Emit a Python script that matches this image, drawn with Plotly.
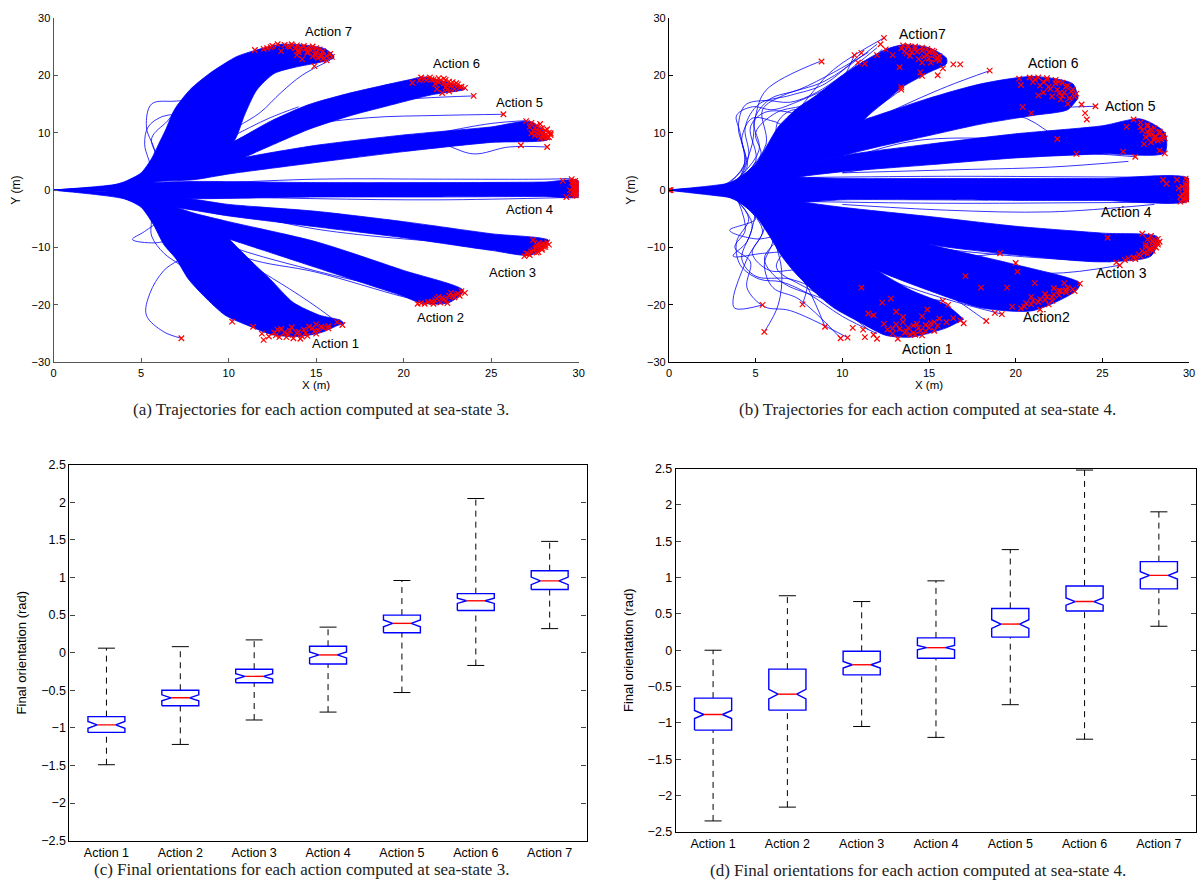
import plotly.graph_objects as go

# ---------------- DATA ----------------
actions = ["Action 1", "Action 2", "Action 3", "Action 4", "Action 5", "Action 6", "Action 7"]

# Box statistics, sea-state 3
ss3_hi = [0.06, 0.08, 0.17, 0.34, 0.96, 2.05, 1.48]
ss3_q3 = [-0.85, -0.50, -0.22, 0.085, 0.50, 0.785, 1.09]
ss3_med = [-0.96, -0.60, -0.315, -0.03, 0.39, 0.69, 0.955]
ss3_q1 = [-1.06, -0.705, -0.40, -0.15, 0.265, 0.56, 0.84]
ss3_lo = [-1.49, -1.22, -0.895, -0.79, -0.53, -0.17, 0.32]
ss3_notch = [0.045, 0.04, 0.035, 0.04, 0.045, 0.035, 0.05]

# Box statistics, sea-state 4
ss4_hi = [0.0, 0.75, 0.67, 0.955, 1.385, 2.48, 1.905]
ss4_q3 = [-0.66, -0.26, -0.015, 0.17, 0.575, 0.885, 1.22]
ss4_med = [-0.885, -0.605, -0.20, 0.035, 0.36, 0.67, 1.03]
ss4_q1 = [-1.10, -0.825, -0.34, -0.11, 0.18, 0.54, 0.845]
ss4_lo = [-2.35, -2.16, -1.05, -1.20, -0.75, -1.225, 0.33]
ss4_notch = [0.055, 0.065, 0.045, 0.03, 0.06, 0.05, 0.05]

# Trajectory bands (upper / lower edges), sea-state 3, per action 1..7
ss3_band_top = [
    [(0, 0), (4, -0.8), (6, -2.5), (8, -4.5), (9.5, -7), (10.5, -10), (11.5, -13), (12.4, -15.6), (13.7, -19.6), (15.2, -21.8), (16.4, -22.7), (16.6, -23.3)],
    [(0, 0), (4, -0.8), (6, -2), (8, -4), (10, -5.5), (15, -9), (20, -14), (23.4, -17.5)],
    [(0, 0), (4, -0.5), (6, -1), (8, -1.6), (10, -2.5), (15, -3.7), (20, -5.5), (25, -7.6), (28.3, -8.8)],
    [(0, 0.02), (2, 0.15), (3, 0.3), (5, 1.2), (8, 1.5), (15, 1.3), (22, 1.3), (28, 1.4), (30, 1.6)],
    [(0, 0), (4, 1), (6, 3), (8, 4.5), (9.3, 4.8), (12, 6.3), (15, 7.8), (20, 9.6), (25, 11), (27.3, 11.9)],
    [(0, 0), (4, 1.2), (6, 3.5), (8, 6), (10, 8), (12.4, 12), (14.5, 14.8), (16.8, 16.8), (20.3, 19.2), (21.2, 19.7)],
    [(0, 0), (2, 0.25), (3, 0.6), (4, 1.4), (5, 3), (5.6, 5.5), (6.0, 8), (6.4, 10.5), (6.9, 14), (7.8, 17.5), (9, 20.5), (10.5, 23.3), (12.2, 24.9), (13, 25.4), (14.5, 25.2), (15.5, 24.6), (16, 23.4)],
]
ss3_band_bot = [
    [(0, 0), (2, -0.25), (3, -0.6), (4, -1.4), (5, -3), (5.7, -6), (6.3, -9.5), (7.0, -12), (7.7, -15.5), (8.6, -18.5), (9.8, -21.8), (11.2, -23.7), (12.5, -25.2), (14, -25.5), (15.3, -24.8), (16.3, -23.5)],
    [(0, 0), (4, -1.5), (6, -4), (8, -6.5), (10, -8.5), (12, -10.5), (15, -13.5), (18, -16.5), (20, -18.5), (21, -19.7), (22.6, -19.6)],
    [(0, 0), (4, -1), (6, -2.5), (8, -3.5), (10, -4.5), (15, -6.4), (20, -8.3), (25, -10.5), (27.3, -11.3)],
    [(0, -0.02), (2, -0.15), (3, -0.3), (5, -1.2), (8, -1.5), (15, -1.2), (22, -1.2), (28, -1.1), (30, -1.1)],
    [(0, 0), (4, 0.5), (6, 1.5), (8, 1.8), (10, 2.8), (15, 4.8), (20, 6.7), (25, 8.3), (28.3, 8.9)],
    [(0, 0), (4, 0.8), (6, 2.5), (8, 4), (10.2, 4.9), (12, 7.2), (14.6, 10.6), (17, 13), (19, 14.6), (21.6, 16.6), (23.5, 17.6)],
    [(0, 0), (4, 0.8), (6, 2), (8, 3.8), (9.5, 5.5), (10.4, 9), (10.9, 13), (11.6, 17.4), (12.6, 20.3), (13.8, 21.4), (15.3, 22.3), (16, 23)],
]

# Individual stray trajectories, sea-state 3
ss3_strays = [
    [(4, 1), (5.5, 3), (5.2, 8), (5.4, 11), (6.2, 12.8), (7.8, 13.6), (9, 16), (11, 21), (12.5, 24.8)],
    [(4, 1), (6, 4), (5.6, 9), (6.5, 12), (7.2, 14.4), (8.6, 15.3), (10, 18), (12.4, 24.2)],
    [(5, 2), (5.8, 6), (5.3, 11), (5.6, 15), (7, 15.5), (8.5, 16), (10, 19), (13, 24.5)],
    [(5, 2), (7, 6), (8.5, 9), (9.4, 12), (10, 15), (12, 20), (14.5, 22.3)],
    [(6, 3), (9, 8), (10.5, 11), (11.8, 13.5), (13, 17), (14.2, 20), (15.8, 22.6)],
    [(7, 4), (10, 9), (12.3, 12.5), (14, 14.5)],
    [(6, 3), (10, 8), (13, 12.5), (17, 15), (21, 16), (24, 16.4)],
    [(7, 4), (10, 7), (14, 11), (18, 12.6), (22, 13), (25.7, 13.2)],
    [(8, 3), (12, 5.5), (18, 8), (22, 8.1), (24, 6.3), (26, 7.5), (28.2, 7.5)],
    [(8, 2.5), (15, 6.3), (22, 10), (25, 11.6), (27, 12.1)],
    [(8, 1), (15, 1.9), (22, 1.9), (28, 1.9), (29.5, 2)],
    [(8, -1), (15, -1.5), (22, -1.7), (29.3, -1.3)],
    [(8, -3), (12, -5), (15, -6.8), (20, -8.5), (25, -9.3), (27.4, -8.7)],
    [(6, -4), (10, -9.7), (14, -13.3), (18, -16.2), (22, -18)],
    [(8, -7), (11, -11.8), (15, -14.3), (20, -18.6), (22, -19.9)],
    [(5, -2), (6, -5), (5.2, -7.2), (4.5, -8.6), (5.8, -9.2), (7.5, -8.3), (7.8, -10.5), (6.3, -14), (5.5, -18), (5.3, -21.8), (6.3, -24.7), (7.3, -25.8)],
    [(4, -1), (5.5, -4), (5.6, -8), (6.3, -11), (7.2, -13), (8.5, -16.5), (10.5, -21), (12, -23.5)],
    [(6, -3), (7.5, -7), (9, -10.5), (8.7, -13), (9.5, -16), (11, -20), (13.5, -23.5)],
    [(5, -2), (6.8, -6), (8.3, -9.5), (11, -12.8), (13, -16.3), (15, -20.3), (16.2, -23)],
    [(6, -3), (8, -8), (9.6, -12), (10.2, -22.9)],
]

# End points (red crosses), sea-state 3
ss3_end_x = [10.2, 11.4, 11.9, 12.3, 12.0, 12.7, 12.8, 13.2, 13.4, 13.7, 14.0, 14.3, 14.5, 14.8, 15.1, 15.4, 15.7, 16.2, 16.5, 13.0, 14.1, 14.6, 15.0, 13.6, 7.3, 12.6,
             13.5, 13.9, 14.4, 14.9, 15.3, 15.0, 13.3, 14.2, 15.7, 12.9,
             23.3, 23.5, 23.0, 22.6, 22.2, 21.8, 21.4, 21.0, 20.8, 22.4, 22.9, 21.7, 23.2, 22.7, 21.9, 22.5,
             22.8, 22.3, 21.6, 22.1, 23.1, 22.0, 21.2,
             27.4, 27.7, 28.0, 28.3, 28.1, 27.9, 27.6, 27.2, 26.9, 27.5, 27.8, 27.3, 28.2, 27.6, 27.0, 27.9,
             27.9, 28.1, 27.4, 27.7, 27.1, 28.0, 27.6,
             29.6, 29.8, 29.9, 30.0, 29.7, 29.9, 30.0, 29.8, 29.6, 29.9, 29.3, 29.7, 29.5, 29.9, 29.8, 29.1, 30.0,
             29.7, 29.8, 29.9, 30.0, 29.7, 29.6, 29.8,
             27.0, 27.3, 27.6, 27.9, 28.1, 28.3, 28.4, 28.2, 27.8, 27.5, 27.9, 27.3, 28.0, 27.6, 27.2, 26.7, 28.2, 25.7, 27.8, 28.3, 27.4,
             27.8, 28.2, 28.4, 27.7, 28.0, 27.5, 28.1,
             20.5, 21.0, 21.5, 22.0, 22.4, 22.8, 23.1, 23.3, 23.5, 22.6, 22.2, 21.8, 22.5, 21.3, 22.0, 22.9, 20.9, 21.7, 23.0, 22.4, 24.0, 22.3, 21.9,
             21.2, 21.6, 22.1, 22.6, 22.9, 22.3, 22.7, 23.2, 21.9, 22.5,
             11.5, 12.0, 12.5, 12.8, 13.2, 13.5, 13.8, 14.1, 14.4, 14.7, 15.0, 15.3, 15.6, 15.9, 15.6, 14.9, 14.2, 13.9, 14.5, 15.1, 13.0, 12.2, 14.8, 15.2, 13.6, 14.0, 15.4,
             12.4, 13.4, 13.9, 14.3, 14.6, 15.0, 15.4, 15.8, 14.0, 14.5, 15.0, 15.3, 14.8]
ss3_end_y = [-22.9, -23.8, -25.0, -25.5, -26.1, -25.3, -24.3, -24.8, -25.2, -25.8, -24.7, -24.3, -25.4, -24.0, -24.4, -24.0, -23.7, -23.0, -23.5, -24.2, -25.9, -23.8, -23.4, -23.9, -25.8, -24.8,
             -24.5, -24.9, -24.9, -24.6, -23.8, -25.0, -25.6, -25.5, -24.1, -25.6,
             -17.6, -17.9, -18.2, -18.4, -18.8, -19.2, -19.5, -19.7, -19.8, -19.3, -18.7, -19.8, -18.4, -17.9, -18.9, -19.7,
             -18.5, -19.0, -19.4, -19.6, -18.0, -18.6, -19.8,
             -8.7, -9.2, -9.3, -9.5, -9.9, -10.4, -10.9, -11.3, -11.5, -10.2, -9.8, -10.7, -9.1, -9.5, -11.0, -10.1,
             -9.5, -9.6, -10.5, -10.8, -11.1, -9.9, -10.0,
             1.9, 1.6, 1.2, 0.8, 0.5, 0.2, -0.2, -0.5, -0.8, -1.0, -1.2, 1.0, 0.0, -0.6, 0.6, 1.6, 1.4,
             1.5, -0.9, 0.9, 0.1, -0.2, 1.3, 0.3,
             12.0, 11.7, 11.2, 10.8, 10.4, 10.0, 9.6, 9.2, 9.0, 9.5, 10.0, 9.9, 9.4, 10.5, 11.0, 7.8, 7.5, 13.2, 11.5, 9.2, 10.3,
             10.2, 10.6, 9.9, 9.7, 9.1, 10.8, 9.7,
             18.7, 19.6, 19.6, 19.5, 19.2, 18.8, 18.4, 18.0, 17.8, 17.2, 16.9, 18.5, 18.3, 19.2, 18.9, 17.6, 19.1, 19.2, 18.6, 17.9, 16.4, 19.4, 17.6,
             19.4, 19.3, 19.1, 18.9, 18.3, 18.6, 18.1, 17.9, 18.9, 17.5,
             24.4, 24.6, 25.1, 25.4, 25.3, 24.9, 24.7, 24.8, 24.6, 24.3, 24.0, 23.6, 23.3, 23.2, 22.6, 21.6, 22.8, 23.5, 23.9, 23.0, 24.2, 24.7, 25.0, 24.5, 25.4, 24.0, 22.8,
             24.9, 25.1, 25.2, 25.1, 24.8, 24.7, 24.2, 23.7, 24.4, 24.1, 23.6, 23.3, 23.3]

# Trajectory bands, sea-state 4
ss4_band_top = [
    [(0, 0), (4, -1), (6, -3), (8, -6), (10, -10), (12, -14), (14, -17.5), (16, -20), (17, -22.5)],
    [(0, 0), (4, -1), (6, -2), (8, -4), (10, -5.8), (15, -9.5), (20, -13), (23.7, -16.2)],
    [(0, 0), (4, -0.5), (6, -1.2), (8, -2.2), (10, -3), (15, -4.6), (20, -6.3), (25, -7.5), (28.2, -8.2)],
    [(0, 0.02), (2, 0.2), (3, 0.5), (5, 1.6), (7, 2.2), (10, 2), (15, 2), (20, 2), (25, 2), (30, 2)],
    [(0, 0), (4, 1), (6, 3), (8, 4.5), (10, 6), (15, 8), (20, 9.8), (25, 11.2), (27.2, 12.4), (28.6, 10)],
    [(0, 0), (4, 1.5), (6, 4.5), (8, 8.5), (10, 11), (12, 13), (15, 16), (18, 18.5), (21, 19.8), (23.3, 18.5), (23.6, 16)],
    [(0, 0), (2, 0.3), (3, 0.8), (4, 2), (5, 4.5), (5.7, 8), (6.3, 11), (7.3, 14), (8.5, 16.5), (9.8, 19.5), (11, 22), (12.5, 24.5), (13.5, 25.3), (15, 24.8), (16, 23)],
]
ss4_band_bot = [
    [(0, 0), (2, -0.3), (3, -0.8), (4, -2), (5, -4.5), (5.8, -8), (6.5, -11.5), (7.3, -14.5), (8.3, -17.5), (9.5, -20.5), (11, -23), (12.5, -25.3), (14, -25.6), (16, -24), (17, -22.5)],
    [(0, 0), (4, -1.5), (6, -5), (8, -8), (10, -11), (12, -14), (15, -17.5), (18, -20.5), (21, -21), (23.5, -17.5)],
    [(0, 0), (4, -1.5), (6, -3), (8, -4.5), (10, -6.5), (15, -9.5), (20, -11.3), (25, -12.5), (27.8, -11.5)],
    [(0, -0.02), (2, -0.2), (3, -0.5), (5, -1.6), (7, -2.2), (10, -1.7), (15, -1.7), (20, -1.8), (25, -1.8), (30, -1.8)],
    [(0, 0), (4, 0.5), (6, 1.5), (8, 2.5), (10, 3.2), (15, 4.4), (20, 5.6), (25, 6.3), (28.6, 6.5)],
    [(0, 0), (4, 1), (6, 2.5), (8, 4.5), (10, 6), (12, 7.5), (15, 9.5), (18, 11.5), (21, 13), (23, 14), (23.6, 16)],
    [(0, 0), (4, 1), (6, 2.5), (8, 4), (9.5, 7), (10.5, 10), (11.5, 13), (12.5, 15.5), (13.5, 18), (15, 20.5), (16, 22)],
]

ss4_strays = [
    [(3, 0.5), (4.3, 4), (4.1, 10), (3.9, 13), (4.8, 14.5), (6, 14), (7.5, 15.5), (9, 17.5), (10.6, 20), (12.3, 24.5)],
    [(3.5, 1), (5, 5), (4.7, 11), (5.5, 13.5), (7, 13.5), (8, 12), (9, 14), (10.7, 23.5)],
    [(3.5, 1), (4.5, 4), (4.2, 9), (4.8, 12.5), (6, 12), (7, 11), (8, 13), (9, 15.5), (11, 21), (13, 24.5)],
    [(4, 2), (5.3, 6), (5, 10), (6.2, 13.5), (8, 15), (10, 19), (12.3, 23.5)],
    [(4, 1.5), (4.6, 6), (4.4, 11), (5.2, 15), (7, 16.5), (9, 18.5), (11.1, 23.9)],
    [(3.5, 1.2), (4.4, 5), (4.0, 11), (4.4, 14.8), (5.5, 15.6), (7, 15.3), (8.5, 17), (10, 20), (12, 24.8)],
    [(4, 2), (5.2, 7), (4.9, 12), (5.8, 15.8), (7.5, 17.5), (9.5, 20.5), (11.5, 24)],
    [(4.5, 2.5), (6, 7), (6.3, 12), (7.2, 14), (8.6, 13), (9.6, 15), (11, 19), (13, 23)],
    [(4.2, 2), (5.6, 8), (5.4, 14), (6.6, 16.5), (9, 19), (12, 25.4)],
    [(5, 3), (6.5, 9), (7.8, 12), (10, 13.5), (12, 16), (14, 21.5)],
    [(5, 3), (7, 8), (8.5, 12), (9.5, 16), (11, 19), (13.5, 23)],
    [(4, 1.5), (4.8, 8), (5, 13), (5.6, 17.4), (8.7, 22.4)],
    [(6, 8), (8, 16), (9.5, 21), (12.4, 26.5)],
    [(9, 10), (11, 13), (12.5, 15.5), (13.4, 17.5)],
    [(8, 5), (10, 7.5), (12.5, 12), (14.5, 13.4)],
    [(9, 8), (13, 14), (16, 18), (18.5, 20.8)],
    [(14, 9.5), (17.5, 12), (20.2, 12.9), (22.4, 8.9)],
    [(15, 13), (19, 14.5), (22, 14.4), (24.6, 14.6)],
    [(9, 4), (14, 8.5), (20, 9), (24, 9), (26.5, 10.5)],
    [(10, 4), (15, 5.3), (20, 5.8), (23.5, 6.3)],
    [(10, 3), (16, 5.5), (22, 6.6), (26.9, 5.8)],
    [(10, 3), (16, 3.5), (22, 4), (26.5, 5)],
    [(8, 2.2), (16, 2.4), (24, 2.3), (29.5, 2.2)],
    [(8, -2), (16, -2.3), (24, -2.2), (29.5, -2.1)],
    [(10, -2.5), (16, -3.5), (22, -3.8), (28, -2.5)],
    [(8, -4), (12, -8), (16, -11.5), (19.1, -11)],
    [(9, -6), (14, -9.5), (20, -11.5), (25.5, -12.5)],
    [(8, -5), (13, -11), (17.1, -15)],
    [(8, -6), (12, -9), (16, -12), (20, -14), (23.7, -16.3)],
    [(10, -10), (14, -14.5), (16.5, -19), (18.3, -22.8)],
    [(10, -12), (13, -16), (16, -19), (19.2, -21.6)],
    [(12, -10), (18, -13), (22, -14.5), (26, -13.1)],
    [(4, -1.5), (5.5, -6), (4.5, -12), (3.7, -19), (3.8, -20.6), (5.4, -20)],
    [(4, -2), (5, -5), (3.5, -7), (5, -8.5), (7, -8), (8, -12), (9, -16), (10, -20), (12, -24)],
    [(5, -4), (4.5, -9), (3.7, -11.5), (5.5, -11), (7, -11), (8.5, -14), (9.5, -19), (11.5, -24.3)],
    [(4, -2), (4.8, -6), (4.2, -12), (5, -15), (7, -15.5), (9, -18), (11, -22), (13, -25)],
    [(3.8, -1.5), (4.6, -5), (3.9, -9), (4.1, -13), (5.2, -15.5), (6.5, -16), (8, -18), (10, -22), (12, -25)],
    [(4.2, -2), (5.4, -7), (4.8, -11), (5.8, -14), (7.5, -14), (9, -16), (11, -20), (13.5, -24)],
    [(4.5, -2.5), (6, -8), (5.5, -13), (6, -17), (7.5, -19), (9.9, -25.8)],
    [(5, -3), (6.8, -9), (6.2, -13.5), (7.6, -16.5), (9.6, -19), (12.3, -19.6)],
    [(4, -2), (4.4, -7), (3.8, -10), (4.7, -12.5), (4.5, -17), (5.5, -20.3), (7, -21), (10.3, -25.7)],
    [(5, -3), (6.5, -7), (5.5, -12), (6.5, -16), (8.5, -18.5), (11.5, -21.5)],
    [(6, -5), (8, -10), (10, -15), (12, -19), (14, -22.5)],
    [(6, -8), (6.5, -14), (6.3, -20), (5.5, -24.7)],
    [(7, -10), (8, -15), (7.7, -19.9)],
    [(5, -3), (6.5, -10), (8, -17), (9, -23.8)],
    [(9, -12), (12, -17), (15.8, -19.3)],
]

ss4_end_x = [0.0, 0.05, 0.1,
             5.5, 5.4, 7.7, 9.0, 9.9, 10.3, 10.6, 11.2, 11.5, 11.8, 11.8, 11.1, 12.3, 12.8, 12.4, 12.9, 13.2, 13.1, 13.5, 13.8, 14.2, 14.5, 14.8, 15.0, 15.3, 15.6, 16.0, 16.4, 16.8, 14.9, 15.8, 16.1, 17.0, 13.6, 14.1, 15.3, 14.6, 13.1, 12.6, 11.3, 12.0,
             13.3, 13.7, 14.1, 14.4, 14.8, 13.9, 14.3, 13.5, 15.1, 15.5, 12.9, 14.6,
             23.7, 23.3, 22.9, 22.5, 22.1, 21.7, 21.3, 20.9, 20.5, 21.4, 19.8, 19.2, 18.8, 18.3, 19.1, 20.0, 20.1, 21.1, 22.8, 22.2, 20.9, 21.7, 22.5, 17.1, 18.0, 19.5, 23.4, 22.1,
             23.0, 22.6, 22.2, 21.8, 21.4, 21.0, 20.6, 22.9, 21.9, 20.3,
             27.3, 27.8, 28.2, 28.3, 28.2, 28.1, 27.9, 27.6, 27.2, 26.8, 26.3, 25.8, 26.0, 25.3, 27.5, 27.8, 27.3, 27.9, 26.9, 26.5,
             27.9, 28.2, 28.0, 27.7, 27.4, 27.9, 27.5, 27.1, 27.6, 28.1,
             29.8, 30.0, 29.9, 30.0, 29.9, 30.0, 29.8, 29.7, 29.5, 28.5, 28.7, 29.3, 29.5, 29.6, 29.8, 29.4, 29.9,
             29.9, 30.0, 29.9, 30.0, 29.9, 30.0, 29.9, 29.7, 29.8, 29.6,
             26.8, 27.2, 27.6, 28.0, 28.3, 28.5, 28.6, 28.2, 27.8, 27.5, 27.9, 27.3, 26.4, 26.2, 26.9, 23.5, 28.3, 28.6, 27.4, 28.0, 27.6,
             27.8, 28.3, 28.1, 27.6, 27.2, 28.4, 27.7, 28.0,
             20.2, 20.8, 21.3, 21.8, 22.3, 22.7, 23.0, 23.3, 23.5, 23.1, 22.6, 22.1, 21.6, 21.9, 22.4, 22.8, 20.3, 20.4, 20.9, 22.4, 21.3, 23.0, 23.8, 24.0, 24.1, 24.6, 22.3, 21.6,
             21.1, 21.8, 22.5, 22.9, 23.2, 22.7, 22.0, 23.4, 21.4, 22.5, 21.0,
             8.8, 10.7, 11.1, 10.9, 11.3, 12.2, 12.4, 12.5, 12.0, 12.9, 13.3, 13.4, 13.4, 14.5, 14.6, 15.5, 16.4, 16.8, 15.8, 18.5, 13.5, 13.8, 14.2, 14.6, 15.0, 15.3, 15.5, 15.6, 15.1, 14.4, 13.9, 14.0, 14.7, 13.6, 15.2,
             13.8, 14.2, 14.6, 14.9, 15.3, 15.6, 15.4, 14.9, 14.3, 13.7, 15.0, 14.6, 13.4]
ss4_end_y = [0.0, 0.0, 0.0,
             -24.7, -20.0, -19.9, -23.8, -25.8, -25.7, -24.0, -24.3, -21.5, -21.8, -25.2, -17.0, -19.6, -18.9, -23.3, -25.0, -25.9, -21.2, -22.1, -24.0, -25.2, -24.5, -23.5, -24.0, -23.0, -22.4, -23.0, -22.3, -22.7, -20.8, -19.3, -20.0, -23.2, -24.8, -23.6, -24.5, -22.0, -23.4, -24.3, -25.6, -25.9,
             -24.2, -24.6, -24.9, -24.0, -24.6, -25.2, -23.3, -23.0, -23.2, -23.6, -24.1, -25.3,
             -16.3, -17.3, -17.8, -18.3, -18.7, -19.1, -19.5, -19.9, -20.3, -20.8, -20.3, -21.6, -21.4, -22.8, -11.0, -12.7, -14.2, -16.2, -16.2, -17.1, -18.6, -18.1, -17.5, -15.0, -17.0, -17.0, -17.6, -19.3,
             -17.0, -17.6, -18.2, -18.6, -19.0, -19.3, -19.7, -17.4, -19.9, -20.6,
             -7.6, -8.0, -8.5, -9.0, -9.5, -10.0, -10.6, -11.1, -11.5, -11.7, -12.2, -12.6, -13.1, -8.3, -9.5, -10.2, -10.6, -9.0, -12.0, -11.9,
             -8.8, -9.2, -9.8, -10.3, -10.9, -10.0, -9.9, -11.2, -8.6, -8.9,
             2.0, 1.5, 1.0, 0.5, 0.0, -0.5, -1.0, -1.5, -2.0, 1.8, 1.1, 1.8, -1.2, 0.6, -0.3, 0.3, -1.8,
             1.7, 1.2, 0.7, 0.2, -0.2, -0.8, -1.3, -1.8, 0.9, -0.7,
             12.3, 11.8, 11.4, 10.8, 10.2, 9.6, 9.0, 8.6, 8.3, 9.2, 9.8, 10.4, 11.0, 6.7, 5.8, 6.3, 6.9, 6.4, 8.0, 9.2, 10.2,
             10.6, 9.9, 9.3, 11.1, 11.0, 8.8, 9.6, 8.7,
             19.4, 19.6, 19.6, 19.5, 19.2, 18.7, 18.2, 17.5, 16.8, 16.0, 15.8, 16.3, 17.0, 18.0, 17.5, 17.0, 18.3, 14.5, 13.4, 8.9, 16.5, 15.0, 14.9, 13.4, 12.3, 14.6, 18.6, 18.8,
             19.3, 19.2, 18.8, 18.0, 17.2, 16.4, 17.6, 16.3, 18.2, 16.8, 18.8,
             22.4, 23.5, 23.9, 22.2, 22.0, 25.4, 26.5, 24.5, 23.5, 23.5, 21.4, 17.5, 17.9, 20.5, 19.9, 20.0, 21.9, 21.9, 21.2, 20.8, 25.2, 24.9, 24.6, 24.3, 24.0, 23.5, 23.0, 22.5, 22.2, 22.8, 23.4, 24.0, 23.2, 24.2, 24.3,
             25.1, 25.0, 24.8, 24.6, 24.1, 23.3, 22.7, 23.6, 24.1, 23.8, 22.9, 22.2, 24.7]

# Action label positions (data coords)
ss3_label_x = [16.1, 22.1, 26.2, 27.2, 26.6, 23.0, 15.7]
ss3_label_y = [-26.7, -22.2, -14.4, -3.3, 15.3, 22.0, 27.6]
ss4_labels = ["Action 1", "Action2", "Action 3", "Action 4", "Action 5", "Action 6", "Action7"]
ss4_label_x = [14.9, 21.8, 26.1, 26.4, 26.6, 22.2, 14.6]
ss4_label_y = [-27.6, -22.1, -14.4, -3.8, 14.6, 22.1, 27.1]

captions = [
    "(a) Trajectories for each action computed at sea-state 3.",
    "(b) Trajectories for each action computed at sea-state 4.",
    "(c) Final orientations for each action computed at sea-state 3.",
    "(d) Final orientations for each action computed at sea-state 4.",
]

# ---------------- FIGURE ----------------
BLUE = "#0000FF"
RED = "#FF0000"
SANS = "Liberation Sans, Arial, sans-serif"
SERIF = "Liberation Serif, Times New Roman, serif"

fig = go.Figure()


def add_traj(xa, ya, tops, bots, strays, ex, ey):
    for top, bot in zip(tops, bots):
        pts = top + bot[::-1]
        fig.add_trace(go.Scatter(
            x=[p[0] for p in pts], y=[p[1] for p in pts], xaxis=xa, yaxis=ya,
            mode="lines", fill="toself", fillcolor=BLUE,
            line=dict(color=BLUE, width=0.8, shape="spline", smoothing=0.7),
            hoverinfo="skip", showlegend=False))
    for s in strays:
        fig.add_trace(go.Scatter(
            x=[p[0] for p in s], y=[p[1] for p in s], xaxis=xa, yaxis=ya,
            mode="lines", line=dict(color=BLUE, width=0.8, shape="spline", smoothing=1.0),
            hoverinfo="skip", showlegend=False))
    fig.add_trace(go.Scatter(
        x=ex, y=ey, xaxis=xa, yaxis=ya, mode="markers",
        marker=dict(symbol="x-thin", size=5.5, line=dict(color=RED, width=1.2), color=RED),
        hoverinfo="skip", showlegend=False))


add_traj("x", "y", ss3_band_top, ss3_band_bot, ss3_strays, ss3_end_x, ss3_end_y)
add_traj("x2", "y2", ss4_band_top, ss4_band_bot, ss4_strays, ss4_end_x, ss4_end_y)


def add_boxes(xa, ya, hi, q3, med, q1, lo, notch):
    w, wi, c = 0.25, 0.125, 0.115
    bx, by, mx, my, wx, wy, cx, cy = [], [], [], [], [], [], [], []
    for i in range(len(med)):
        x = i + 1
        n = notch[i]
        bx += [x - w, x - w, x - wi, x - w, x - w, x + w, x + w, x + wi, x + w, x + w, x - w, None]
        by += [q1[i], med[i] - n, med[i], med[i] + n, q3[i], q3[i], med[i] + n, med[i], med[i] - n, q1[i], q1[i], None]
        mx += [x - wi, x + wi, None]
        my += [med[i], med[i], None]
        wx += [x, x, None, x, x, None]
        wy += [q3[i], hi[i], None, lo[i], q1[i], None]
        cx += [x - c, x + c, None, x - c, x + c, None]
        cy += [hi[i], hi[i], None, lo[i], lo[i], None]
    common = dict(xaxis=xa, yaxis=ya, mode="lines", hoverinfo="skip", showlegend=False)
    fig.add_trace(go.Scatter(x=wx, y=wy, line=dict(color="black", width=1, dash="6px,5px"), **common))
    fig.add_trace(go.Scatter(x=cx, y=cy, line=dict(color="black", width=1), **common))
    fig.add_trace(go.Scatter(x=bx, y=by, line=dict(color=BLUE, width=1.4), **common))
    fig.add_trace(go.Scatter(x=mx, y=my, line=dict(color=RED, width=1.4), **common))


add_boxes("x3", "y3", ss3_hi, ss3_q3, ss3_med, ss3_q1, ss3_lo, ss3_notch)
add_boxes("x4", "y4", ss4_hi, ss4_q3, ss4_med, ss4_q1, ss4_lo, ss4_notch)

tickfont = dict(family=SANS, size=11, color="black")
boxtickfont = dict(family=SANS, size=12.5, color="black")
traj_x = dict(range=[0, 30], tickvals=[0, 5, 10, 15, 20, 25, 30], ticks="inside", ticklen=4,
              showline=True, linewidth=1.3, showgrid=False, zeroline=False, tickfont=tickfont,
              ticklabeloverflow="allow",
              title=dict(text="X (m)", font=dict(family=SANS, size=11.5, color="black"), standoff=0))
traj_y = dict(range=[-30, 30], tickvals=[-30, -20, -10, 0, 10, 20, 30], ticks="inside", ticklen=4,
              showline=True, linewidth=1.3, showgrid=False, zeroline=False, tickfont=tickfont,
              title=dict(text="Y (m)", font=dict(family=SANS, size=12, color="black"), standoff=8))
box_x = dict(range=[0.5, 7.5], tickvals=[1, 2, 3, 4, 5, 6, 7], ticktext=actions, ticks="",
             showline=True, mirror=True, linewidth=1.3, linecolor="black", showgrid=False, zeroline=False,
             tickfont=boxtickfont)
box_y = dict(range=[-2.5, 2.5], dtick=0.5, tick0=0, ticks="inside", ticklen=5, mirror="ticks",
             showline=True, linewidth=1.3, linecolor="black", showgrid=False, zeroline=False, tickfont=boxtickfont,
             title=dict(text="Final orientation (rad)", font=dict(family=SANS, size=13, color="black"), standoff=11))

W, H = 1204, 890


def dom(a, b, total):
    return [a / total, b / total]


def vdom(top, bottom):
    return [1 - bottom / H, 1 - top / H]


fig.update_layout(
    width=W, height=H, margin=dict(l=0, r=0, t=0, b=0),
    paper_bgcolor="white", plot_bgcolor="white",
    xaxis=dict(traj_x, domain=dom(51, 580, W), anchor="y", linecolor="#555", tickcolor="#555"),
    yaxis=dict(traj_y, domain=vdom(11, 361), anchor="x", linecolor="#555", tickcolor="#555"),
    xaxis2=dict(traj_x, domain=dom(671, 1195, W), anchor="y2", linecolor="black", tickcolor="black"),
    yaxis2=dict(traj_y, domain=vdom(11, 361), anchor="x2", linecolor="black", tickcolor="black"),
    xaxis3=dict(box_x, domain=dom(67, 588, W), anchor="y3"),
    yaxis3=dict(box_y, domain=vdom(465, 847), anchor="x3"),
    xaxis4=dict(box_x, domain=dom(678, 1202, W), anchor="y4"),
    yaxis4=dict(box_y, domain=vdom(469, 838), anchor="x4"),
)

annots = []
for i in range(7):
    annots.append(dict(x=ss3_label_x[i], y=ss3_label_y[i], xref="x", yref="y", text=actions[i],
                       showarrow=False, font=dict(family=SANS, size=13, color="black")))
    annots.append(dict(x=ss4_label_x[i], y=ss4_label_y[i], xref="x2", yref="y2", text=ss4_labels[i],
                       showarrow=False, font=dict(family=SANS, size=14, color="black")))

cap_pos = [(320, 409), (931, 409), (301, 876), (922, 877)]
for t, (cx, cy) in zip(captions, cap_pos):
    annots.append(dict(x=cx / W, y=1 - cy / H, xref="paper", yref="paper", text=t, showarrow=False,
                       font=dict(family=SERIF, size=17, color="#222"), xanchor="center", yanchor="middle"))
fig.update_layout(annotations=annots)

fig.write_html("out.html",
               config={"displayModeBar": False},
               post_script="document.body.style.margin='0px';document.body.style.overflow='hidden';")
